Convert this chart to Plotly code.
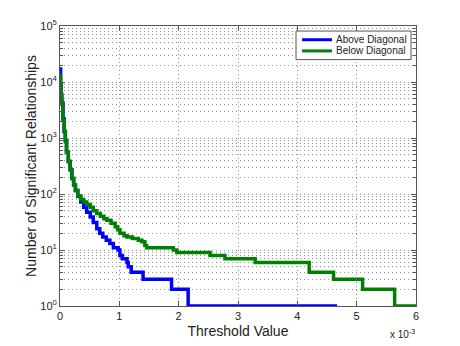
import plotly.graph_objects as go

# threshold values (in units of 1e-3) and counts
above_x = [0, 0.01, 0.02, 0.03, 0.05, 0.07, 0.09, 0.11, 0.14, 0.17, 0.20, 0.23, 0.26, 0.30,
           0.35, 0.40, 0.45, 0.51, 0.56, 0.62, 0.67, 0.72, 0.78, 0.84, 0.90, 0.98, 1.01,
           1.05, 1.13, 1.15, 1.20, 1.40, 1.88, 2.16, 4.67]
above_y = [17000, 9000, 6000, 4200, 2200, 1300, 900, 560, 380, 270, 190, 145, 115, 90,
           72, 58, 47, 39, 31, 24, 20, 17, 15, 13, 11, 10, 8,
           7, 6, 5, 4, 3, 2, 1, 1]

below_x = [0, 0.01, 0.02, 0.03, 0.05, 0.07, 0.09, 0.11, 0.14, 0.17, 0.20, 0.23, 0.26, 0.30,
           0.35, 0.40, 0.45, 0.51, 0.56, 0.62, 0.68, 0.74, 0.79, 0.86, 0.93, 0.97, 1.01,
           1.08, 1.13, 1.22, 1.32, 1.38, 1.43, 1.46, 1.91, 1.97, 2.53, 2.78, 3.29, 4.20,
           4.61, 5.10, 5.64, 6.00]
below_y = [13000, 8000, 5500, 4000, 2100, 1300, 880, 560, 380, 270, 190, 145, 115, 92,
           80, 72, 65, 58, 50, 45, 40, 36, 34, 30, 26, 23, 20,
           18, 17, 16, 15, 14, 12, 11, 10, 9, 8, 7, 6, 4,
           3, 2, 1, 1]

series_names = ["Above Diagonal", "Below Diagonal"]
series_colors = ["#0000FF", "#008000"]

x_tickvals = [0, 0.001, 0.002, 0.003, 0.004, 0.005, 0.006]
x_ticktext = ["0", "1", "2", "3", "4", "5", "6"]
y_tickvals = [1, 10, 100, 1000, 10000, 100000]
y_ticktext = ["10<sup>0</sup>", "10<sup>1</sup>", "10<sup>2</sup>",
              "10<sup>3</sup>", "10<sup>4</sup>", "10<sup>5</sup>"]
# log minor grid: 2..9 in every decade
y_minor = [m * 10 ** d for d in range(5) for m in range(2, 10)]

FONT = "Liberation Sans, Arial, Helvetica, sans-serif"
GRID = "#959595"
DOTS = "1px,3px"
EDGE = "#555555"

fig = go.Figure()
for xs, ys, name, color in zip([above_x, below_x], [above_y, below_y], series_names, series_colors):
    fig.add_trace(go.Scatter(
        x=[v * 1e-3 for v in xs], y=ys, name=name,
        mode="lines", line=dict(color=color, width=3.5, shape="hv"),
    ))

axis_common = dict(
    showline=True, linecolor=EDGE, linewidth=1, mirror="ticks",
    ticks="inside", ticklen=5, tickcolor=EDGE,
    showgrid=True, gridcolor=GRID, griddash=DOTS, gridwidth=1,
    zeroline=False, tickfont=dict(size=11, color="#222222"), automargin=False,
)

# the page body adds an 8px offset, so the figure is a bit smaller than the window
fig.update_layout(
    width=452, height=338,
    margin=dict(l=52, r=44, t=18, b=40),
    paper_bgcolor="white", plot_bgcolor="white",
    font=dict(family=FONT, color="#222222"),
    showlegend=False,
    xaxis=dict(
        axis_common, range=[0, 0.006],
        tickvals=x_tickvals, ticktext=x_ticktext,
        title=dict(text="Threshold Value", font=dict(size=14), standoff=4),
    ),
    yaxis=dict(
        axis_common, type="log", range=[0, 5],
        tickvals=y_tickvals, ticktext=y_ticktext,
        title=dict(text="Number of Significant Relationships", font=dict(size=14), standoff=0),
        minor=dict(tickmode="array", tickvals=y_minor, ticks="inside", ticklen=3,
                   tickcolor=EDGE, showgrid=True, gridcolor=GRID, griddash=DOTS, gridwidth=1),
    ),
)

# MATLAB-style compact legend box in the top-right corner
fig.add_shape(type="rect", xref="paper", yref="paper", x0=0.663, x1=0.986, y0=0.880, y1=0.982,
              line=dict(color=EDGE, width=1), fillcolor="white", layer="above")
for i, (name, color) in enumerate(zip(series_names, series_colors)):
    yy = 0.951 - i * 0.04
    fig.add_shape(type="line", xref="paper", yref="paper", x0=0.680, x1=0.764, y0=yy, y1=yy,
                  line=dict(color=color, width=3), layer="above")
    fig.add_annotation(text=name, xref="paper", yref="paper", x=0.770, y=yy,
                       xanchor="left", yanchor="middle", showarrow=False,
                       font=dict(size=10, color="#222222"))

fig.add_annotation(
    text="x 10<sup>-3</sup>", xref="paper", yref="paper", x=1.003, y=-0.07,
    xanchor="right", yanchor="top", showarrow=False, font=dict(size=10),
)

fig.write_html("out.html")
